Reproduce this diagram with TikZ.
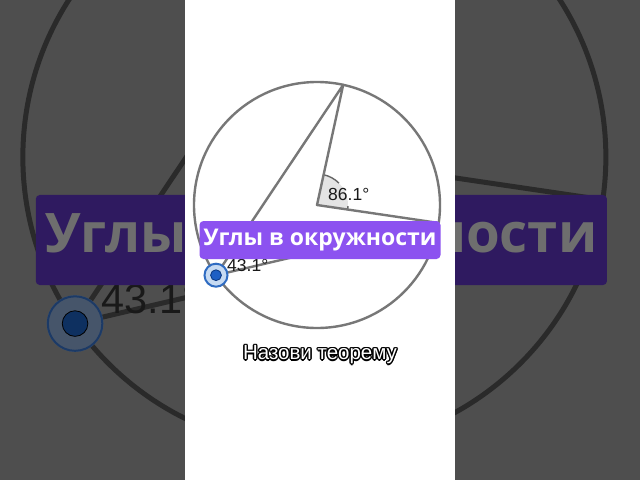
\documentclass[tikz,border=0pt]{standalone}
\usepackage{fontspec}
\setmainfont{Liberation Sans}
\newfontfamily\titlefont{Open Sans}
\definecolor{sidegray}{HTML}{4E4E4E}
\definecolor{bgline}{HTML}{2A2A2A}
\definecolor{bgpurple}{HTML}{2F1A60}
\definecolor{bgtext}{HTML}{6E6E6E}
\definecolor{bghalo}{HTML}{46556A}
\definecolor{bgring}{HTML}{1C3A66}
\definecolor{bgdot}{HTML}{0E3060}
\definecolor{fgline}{HTML}{777777}
\definecolor{sectorfill}{HTML}{E4E4E4}
\definecolor{arcline}{HTML}{666666}
\definecolor{purpleband}{HTML}{8C52F0}
\definecolor{halofill}{HTML}{C6DAF2}
\definecolor{ringblue}{HTML}{2F6CC2}
\definecolor{dotblue}{HTML}{1E5FC4}
\definecolor{dotedge}{HTML}{0D3B85}
\newcommand\geoscene{%
  \coordinate (O) at (317,205);
  \coordinate (A) at ([shift={(-77.7:123)}]O);
  \coordinate (B) at ([shift={(8.4:123)}]O);
  \coordinate (C) at ([shift={(145.2:123)}]O);
  \fill[sectorstyle] (O) -- ([shift={(-77.7:31)}]O) arc[start angle=-77.7,end angle=8.4,radius=31] -- cycle;
  \draw[arcstyle] ([shift={(-77.7:31)}]O) arc[start angle=-77.7,end angle=-45,radius=31];
  \draw[arcstyle] ([shift={(2:31)}]O) arc[start angle=2,end angle=8.4,radius=31];
  \draw[geo] (O) circle[radius=123];
  \draw[geo] (C) -- (A) -- (O) -- (B) -- (C);
  \node[anglelabel] (l86) at (328,200) {86.1°};
  \node[anglelabel] (l43) at (227,271) {43.1°};
  \fill[halostyle] (C) circle[radius=12];
  \draw[ringstyle] (C) circle[radius=11.5];
  \filldraw[dotstyle] (C) circle[radius=5.4];
  \node[bannerstyle] (title) at (320,240) {Углы в окружности};
}
\begin{document}
\begin{tikzpicture}[x=1pt,y=-1pt]
\useasboundingbox (0,0) rectangle (640,480);
\fill[sidegray] (0,0) rectangle (640,480);
% blurred, darkened background copy
\begin{scope}
\clip (0,0) rectangle (640,480);
\begin{scope}[shift={(319,240)},scale=2.37,transform shape,shift={(-319,-240)}]
\tikzset{
  sectorstyle/.style={fill=sidegray},
  arcstyle/.style={draw=none},
  geo/.style={draw=bgline,line width=5pt,line join=round},
  anglelabel/.style={anchor=base west,inner sep=0pt,font=\fontsize{17.5}{20}\selectfont,text=black!90},
  halostyle/.style={fill=bghalo},
  ringstyle/.style={draw=bgring,line width=2pt},
  dotstyle/.style={fill=bgdot,draw=black,line width=0.8pt},
  bannerstyle/.style={fill=bgpurple,rounded corners=4pt,minimum width=241pt,minimum height=38pt,inner sep=0pt,text=bgtext,font=\titlefont\bfseries\fontsize{23}{26}\selectfont}
}
\geoscene
\end{scope}
\end{scope}
% white central panel
\fill[white] (185,0) rectangle (455,480);
\begin{scope}
\tikzset{
  sectorstyle/.style={fill=sectorfill},
  arcstyle/.style={draw=arcline,line width=1.4pt},
  geo/.style={draw=fgline,line width=2.4pt,line join=round},
  anglelabel/.style={anchor=base west,inner sep=0pt,font=\fontsize{17.5}{20}\selectfont,text=black!90},
  halostyle/.style={fill=halofill},
  ringstyle/.style={draw=ringblue,line width=2pt},
  dotstyle/.style={fill=dotblue,draw=dotedge,line width=0.9pt},
  bannerstyle/.style={fill=purpleband,rounded corners=4pt,minimum width=241pt,minimum height=38pt,inner sep=0pt,text=white,font=\titlefont\bfseries\fontsize{23}{26}\selectfont}
}
\geoscene
\end{scope}
% caption with black outline
\tikzset{captionstyle/.style={inner sep=0pt,font=\fontsize{20.5}{24}\selectfont}}
\coordinate (capc) at (320,355);
\foreach \dx/\dy in {1.4/0,-1.4/0,0/1.4,0/-1.4,1/1,-1/1,1/-1,-1/-1}
  \node[captionstyle,text=black] at ([shift={(\dx,\dy)}]capc) {Назови теорему};
\node[captionstyle,text=white] (caption) at (capc) {Назови теорему};
\end{tikzpicture}
\end{document}
